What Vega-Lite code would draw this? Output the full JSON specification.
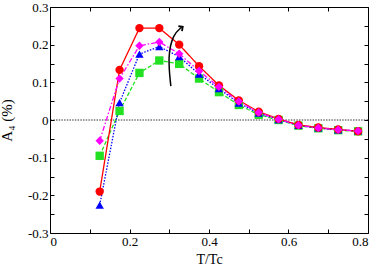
{
  "$schema": "https://vega.github.io/schema/vega-lite/v6.json",
  "width": 318,
  "height": 226,
  "autosize": {"type": "none"},
  "padding": {"left": 50, "top": 7, "right": 14, "bottom": 46},
  "background": "white",
  "config": {
    "view": {"stroke": "black", "strokeWidth": 1},
    "font": "Liberation Serif",
    "axis": {
      "grid": false, "domain": false, "tickColor": "black", "tickSize": -4,
      "labelFont": "Liberation Serif", "labelFontSize": 13, "labelColor": "black",
      "titleFont": "Liberation Serif", "titleFontSize": 14, "titleFontWeight": "normal", "titleColor": "black"
    }
  },
  "datasets": {
    "main": [
      {"x": 0.125, "y": -0.095, "s": "g"}, {"x": 0.175, "y": 0.024, "s": "g"}, {"x": 0.225, "y": 0.125, "s": "g"}, {"x": 0.275, "y": 0.158, "s": "g"}, {"x": 0.325, "y": 0.149, "s": "g"}, {"x": 0.375, "y": 0.11, "s": "g"}, {"x": 0.425, "y": 0.074, "s": "g"}, {"x": 0.475, "y": 0.04, "s": "g"}, {"x": 0.525, "y": 0.014, "s": "g"}, {"x": 0.575, "y": 0.0, "s": "g"}, {"x": 0.625, "y": -0.015, "s": "g"}, {"x": 0.675, "y": -0.022, "s": "g"}, {"x": 0.725, "y": -0.027, "s": "g"}, {"x": 0.775, "y": -0.03, "s": "g"},
      {"x": 0.125, "y": -0.226, "s": "b"}, {"x": 0.175, "y": 0.046, "s": "b"}, {"x": 0.225, "y": 0.175, "s": "b"}, {"x": 0.275, "y": 0.195, "s": "b"}, {"x": 0.325, "y": 0.168, "s": "b"}, {"x": 0.375, "y": 0.122, "s": "b"}, {"x": 0.425, "y": 0.083, "s": "b"}, {"x": 0.475, "y": 0.045, "s": "b"}, {"x": 0.525, "y": 0.018, "s": "b"}, {"x": 0.575, "y": 0.001, "s": "b"}, {"x": 0.625, "y": -0.014, "s": "b"}, {"x": 0.675, "y": -0.021, "s": "b"}, {"x": 0.725, "y": -0.026, "s": "b"}, {"x": 0.775, "y": -0.029, "s": "b"},
      {"x": 0.125, "y": -0.19, "s": "r"}, {"x": 0.175, "y": 0.133, "s": "r"}, {"x": 0.225, "y": 0.244, "s": "r"}, {"x": 0.275, "y": 0.244, "s": "r"}, {"x": 0.325, "y": 0.2, "s": "r"}, {"x": 0.375, "y": 0.143, "s": "r"}, {"x": 0.425, "y": 0.092, "s": "r"}, {"x": 0.475, "y": 0.052, "s": "r"}, {"x": 0.525, "y": 0.022, "s": "r"}, {"x": 0.575, "y": 0.003, "s": "r"}, {"x": 0.625, "y": -0.013, "s": "r"}, {"x": 0.675, "y": -0.02, "s": "r"}, {"x": 0.725, "y": -0.025, "s": "r"}, {"x": 0.775, "y": -0.03, "s": "r"},
      {"x": 0.125, "y": -0.055, "s": "m"}, {"x": 0.175, "y": 0.11, "s": "m"}, {"x": 0.225, "y": 0.197, "s": "m"}, {"x": 0.275, "y": 0.207, "s": "m"}, {"x": 0.325, "y": 0.176, "s": "m"}, {"x": 0.375, "y": 0.13, "s": "m"}, {"x": 0.425, "y": 0.088, "s": "m"}, {"x": 0.475, "y": 0.049, "s": "m"}, {"x": 0.525, "y": 0.02, "s": "m"}, {"x": 0.575, "y": 0.002, "s": "m"}, {"x": 0.625, "y": -0.014, "s": "m"}, {"x": 0.675, "y": -0.021, "s": "m"}, {"x": 0.725, "y": -0.026, "s": "m"}, {"x": 0.775, "y": -0.029, "s": "m"}
    ],
    "arrow": [
      {"x": 0.304, "y": 0.09, "o": 1}, {"x": 0.296, "y": 0.17, "o": 2}, {"x": 0.31, "y": 0.228, "o": 3}, {"x": 0.331, "y": 0.246, "o": 4}
    ],
    "head": [{"x": 0.332, "y": 0.246}]
  },
  "layer": [
    {
      "data": {"values": [{"v": 0}]},
      "mark": {"type": "rule", "color": "black", "strokeWidth": 0.8, "strokeDash": [1.5, 1.2]},
      "encoding": {
        "y": {"field": "v", "type": "quantitative", "scale": {"domain": [-0.3, 0.3], "nice": false, "zero": false},
          "axis": {"orient": "right", "labels": false, "title": null, "values": [-0.3,-0.25,-0.2,-0.15,-0.1,-0.05,0,0.05,0.1,0.15,0.2,0.25,0.3]}}
      }
    },
    {
      "data": {"name": "main"},
      "mark": {"type": "line", "strokeWidth": 1.3},
      "encoding": {
        "x": {"field": "x", "type": "quantitative", "scale": {"domain": [0, 0.8], "nice": false},
          "axis": {"orient": "top", "labels": false, "title": null, "values": [0,0.1,0.2,0.3,0.4,0.5,0.6,0.7,0.8]}},
        "y": {"field": "y", "type": "quantitative", "axis": null},
        "color": {"field": "s", "type": "nominal", "legend": null, "scale": {"domain": ["g", "b", "r", "m"], "range": ["#22e022", "#0000ff", "#ff0000", "#ff00ff"]}},
        "strokeDash": {"field": "s", "type": "nominal", "legend": null, "scale": {"domain": ["g", "b", "r", "m"], "range": [[4, 2], [1.5, 1.5], [1, 0], [5, 2, 1.5, 2]]}}
      }
    },
    {
      "data": {"name": "main"},
      "mark": {"type": "point", "filled": true, "opacity": 1, "size": 70},
      "encoding": {
        "x": {"field": "x", "type": "quantitative",
          "axis": {"orient": "bottom", "title": "T/Tc", "titlePadding": 4, "labelPadding": 6, "values": [0,0.1,0.2,0.3,0.4,0.5,0.6,0.7,0.8],
            "labelExpr": "abs(round(datum.value*10))%2==0 ? format(datum.value,'.1~f') : ''"}},
        "y": {"field": "y", "type": "quantitative",
          "axis": {"orient": "left", "title": "A₄ (%)", "titleFontSize": 15, "titlePadding": 13, "labelPadding": 6, "values": [-0.3,-0.25,-0.2,-0.15,-0.1,-0.05,0,0.05,0.1,0.15,0.2,0.25,0.3],
            "labelExpr": "abs(round(datum.value*20))%2==0 ? replace(format(datum.value,'.1~f'),'−','-') : ''"}},
        "color": {"field": "s", "type": "nominal", "legend": null},
        "shape": {"field": "s", "type": "nominal", "legend": null, "scale": {"domain": ["g", "b", "r", "m"], "range": ["square", "triangle-up", "circle", "diamond"]}}
      }
    },
    {
      "data": {"name": "arrow"},
      "mark": {"type": "line", "color": "black", "strokeWidth": 1.5, "interpolate": "basis"},
      "encoding": {
        "x": {"field": "x", "type": "quantitative", "axis": null},
        "y": {"field": "y", "type": "quantitative", "axis": null},
        "order": {"field": "o"}
      }
    },
    {
      "data": {"name": "head"},
      "mark": {"type": "point", "shape": "M -1 0.7 L 0 -0.3 L 1 0.7", "filled": false, "color": "black", "strokeWidth": 1.8, "size": 40, "angle": 55, "opacity": 1},
      "encoding": {
        "x": {"field": "x", "type": "quantitative", "axis": null},
        "y": {"field": "y", "type": "quantitative", "axis": null}
      }
    }
  ],
  "resolve": {"axis": {"x": "independent", "y": "independent"}}
}
